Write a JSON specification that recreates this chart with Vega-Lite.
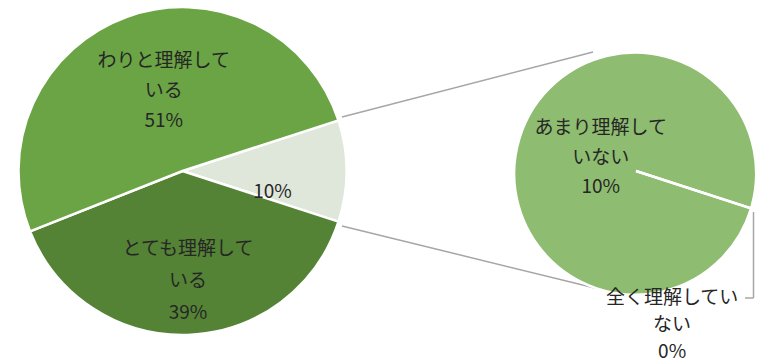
{
  "$schema": "https://vega.github.io/schema/vega-lite/v6.json",
  "width": 758,
  "height": 364,
  "padding": 0,
  "autosize": {"type": "none"},
  "background": "white",
  "config": {
    "view": {"stroke": null},
    "text": {"font": "Noto Sans CJK JP", "fontSize": 19, "color": "#262626", "lineBreak": "\n"}
  },
  "datasets": {
    "main": [
      {"cat": "その他", "value": 10, "label": "10%"},
      {"cat": "とても理解している", "value": 39, "label": "とても理解して\nいる\n39%"},
      {"cat": "わりと理解している", "value": 51, "label": "わりと理解して\nいる\n51%"}
    ],
    "detail": [
      {"cat": "あまり理解していない", "value": 10, "label": "あまり理解して\nいない\n10%"},
      {"cat": "全く理解していない", "value": 0, "label": "全く理解してい\nない\n0%"}
    ],
    "links": [
      {"x": 0.9785, "y": 0.3313, "x2": 2.5184, "y2": 0.7301},
      {"x": 0.9785, "y": -0.3374, "x2": 2.5307, "y2": -0.7178},
      {"x": 3.5031, "y": -0.2515, "x2": 3.5031, "y2": -0.7791},
      {"x": 3.5031, "y": -0.7791, "x2": 3.4509, "y2": -0.7791}
    ]
  },
  "resolve": {"scale": {"theta": "independent"}},
  "layer": [
    {
      "data": {"name": "links"},
      "mark": {"type": "rule", "color": "#a6a6a6", "strokeWidth": 1.5},
      "encoding": {
        "x": {"field": "x", "type": "quantitative", "scale": {"domain": [-1.1196, 3.5307], "nice": false, "zero": false}, "axis": null},
        "y": {"field": "y", "type": "quantitative", "scale": {"domain": [-1.184, 1.0491], "nice": false, "zero": false}, "axis": null},
        "x2": {"field": "x2"},
        "y2": {"field": "y2"}
      }
    },
    {
      "data": {"name": "main"},
      "encoding": {
        "x": {"datum": 0, "type": "quantitative", "scale": {"domain": [-1.1196, 3.5307], "nice": false, "zero": false}, "axis": null},
        "y": {"datum": 0, "type": "quantitative", "scale": {"domain": [-1.184, 1.0491], "nice": false, "zero": false}, "axis": null},
        "theta": {"field": "value", "type": "quantitative", "stack": true, "scale": {"range": [1.2566, 7.5398]}},
        "order": {"field": "value", "type": "quantitative"}
      },
      "layer": [
        {
          "mark": {"type": "arc", "radius": 164, "stroke": "white", "strokeWidth": 2.5},
          "encoding": {
            "color": {
              "field": "cat", "type": "nominal", "legend": null,
              "scale": {
                "domain": ["わりと理解している", "とても理解している", "その他", "あまり理解していない", "全く理解していない"],
                "range": ["#6aa444", "#548335", "#dfe7da", "#8ebc70", "#8ebc70"]
              }
            }
          }
        },
        {
          "mark": {"type": "text", "radius": 85, "dx": 10, "dy": -30, "lineHeight": 30},
          "encoding": {"text": {"condition": {"test": "datum.cat === 'わりと理解している'", "field": "label"}, "value": ""}}
        },
        {
          "mark": {"type": "text", "radius": 110, "dx": 2, "dy": -32, "lineHeight": 32},
          "encoding": {"text": {"condition": {"test": "datum.cat === 'とても理解している'", "field": "label"}, "value": ""}}
        },
        {
          "mark": {"type": "text", "radius": 90, "dy": 21},
          "encoding": {"text": {"condition": {"test": "datum.cat === 'その他'", "field": "label"}, "value": ""}}
        }
      ]
    },
    {
      "data": {"name": "detail"},
      "encoding": {
        "x": {"datum": 2.7822, "type": "quantitative", "scale": {"domain": [-1.1196, 3.5307], "nice": false, "zero": false}, "axis": null},
        "y": {"datum": 0, "type": "quantitative", "scale": {"domain": [-1.184, 1.0491], "nice": false, "zero": false}, "axis": null},
        "theta": {"field": "value", "type": "quantitative", "stack": true, "scale": {"range": [1.885, 8.1681]}}
      },
      "layer": [
        {
          "mark": {"type": "arc", "radius": 121, "stroke": "white", "strokeWidth": 2.5},
          "encoding": {
            "color": {"field": "cat", "type": "nominal", "legend": null}
          }
        },
        {
          "mark": {"type": "text", "radius": 37, "dy": -31.5, "lineHeight": 29.5},
          "encoding": {"text": {"condition": {"test": "datum.cat === 'あまり理解していない'", "field": "label"}, "value": ""}}
        },
        {
          "mark": {"type": "text", "radius": 120, "dx": -78, "dy": 90, "lineHeight": 27},
          "encoding": {"text": {"condition": {"test": "datum.cat === '全く理解していない'", "field": "label"}, "value": ""}}
        }
      ]
    }
  ]
}
